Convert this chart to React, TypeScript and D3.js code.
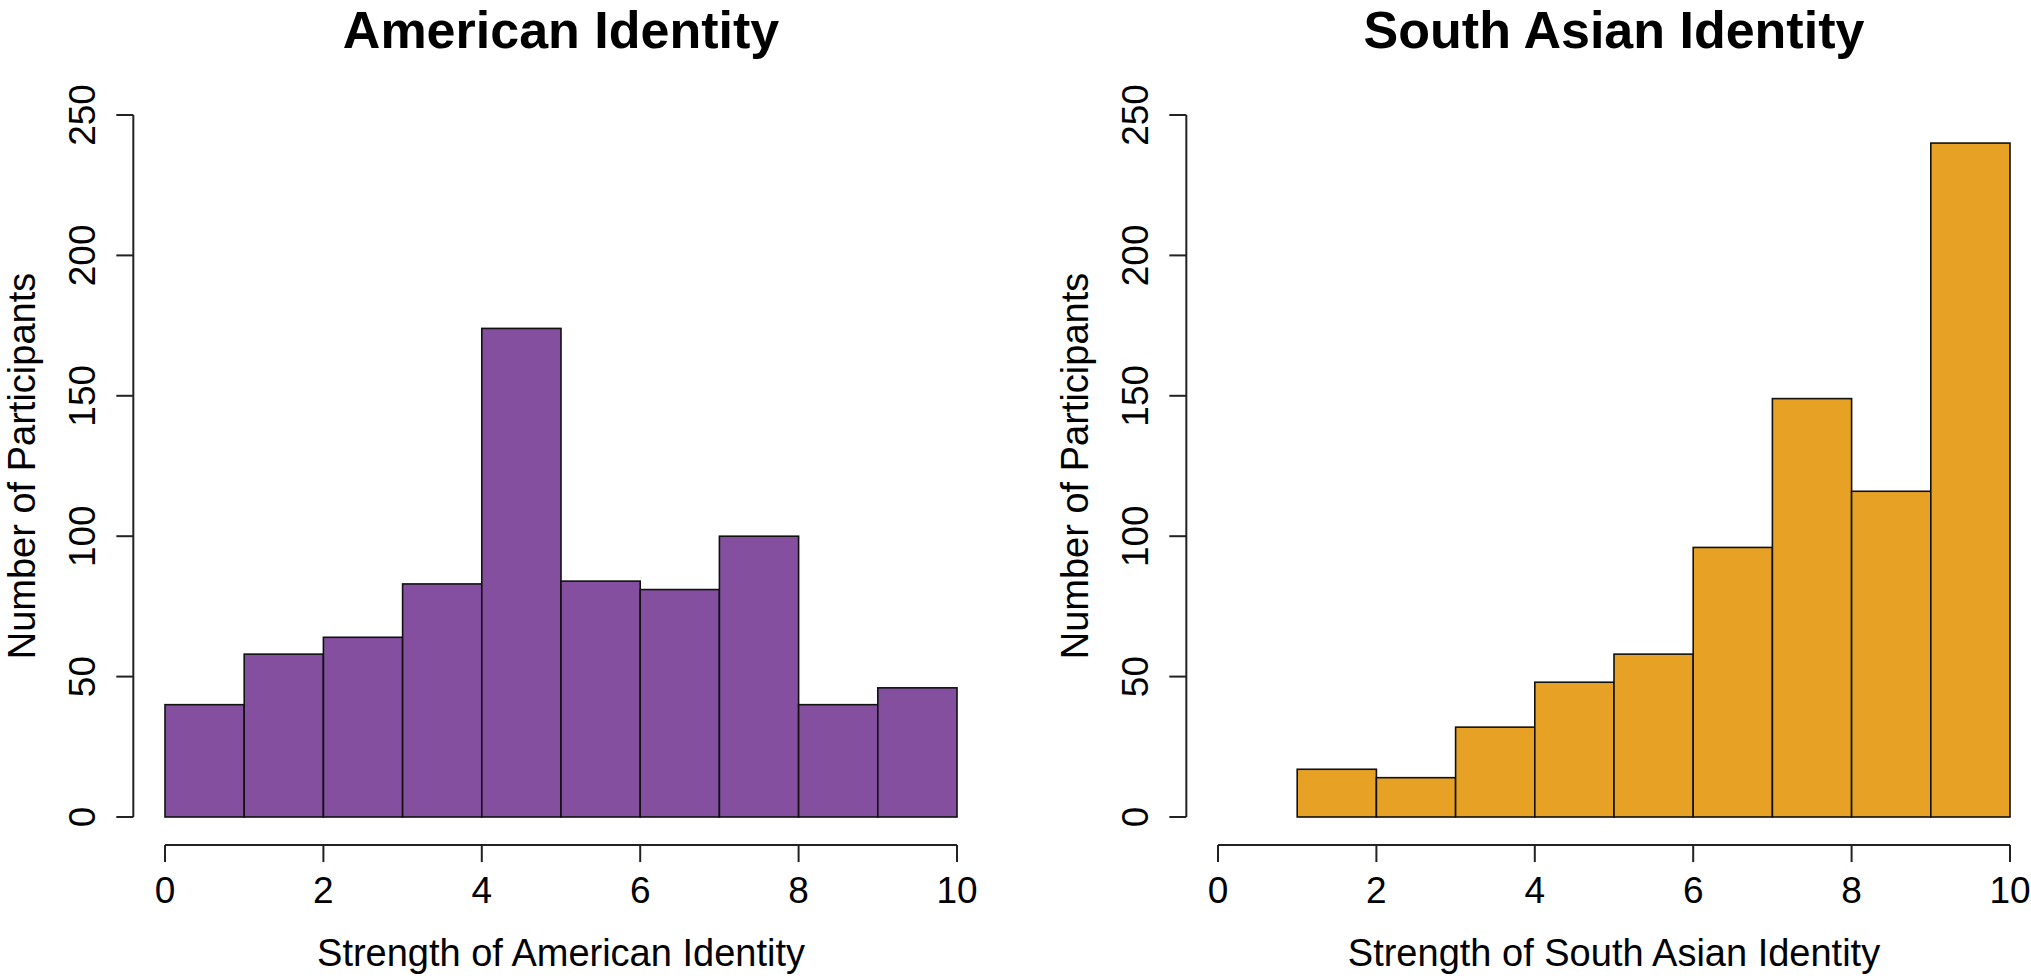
import React from "react";
import * as d3 from "d3";

const binEdges = [0, 1, 2, 3, 4, 5, 6, 7, 8, 9, 10];
const americanCounts = [40, 58, 64, 83, 174, 84, 81, 100, 40, 46];
const southAsianCounts = [0, 17, 14, 32, 48, 58, 96, 149, 116, 240];
const xTicks = [0, 2, 4, 6, 8, 10];
const yTicks = [0, 50, 100, 150, 200, 250];

const panels = [
  { title: "American Identity", xlabel: "Strength of American Identity", counts: americanCounts, color: "#834F9E", offset: 0 },
  { title: "South Asian Identity", xlabel: "Strength of South Asian Identity", counts: southAsianCounts, color: "#E7A226", offset: 1053 },
];

const W = 2031;
const H = 979;
const FONT = "'Liberation Sans', Arial, Helvetica, sans-serif";

function Panel({ p }: { p: (typeof panels)[number] }) {
  const x = d3.scaleLinear().domain([0, 10]).range([165 + p.offset, 957 + p.offset]);
  const y = d3.scaleLinear().domain([0, 250]).range([817, 115]);
  const axisX = x(-0.4);
  const axisY = y(-10);
  const cx = (x(-0.4) + x(10.4)) / 2;
  const cy = (y(-10) + y(260)) / 2;
  const bins = p.counts.map((c, i) => ({ x0: binEdges[i], x1: binEdges[i + 1], c }));
  return (
    <g>
      <text x={cx} y={48} textAnchor="middle" fontSize={52} fontWeight="bold" fontFamily={FONT} fill="#000">
        {p.title}
      </text>
      {bins
        .filter((b) => b.c > 0)
        .map((b, i) => (
          <rect
            key={i}
            x={x(b.x0)}
            y={y(b.c)}
            width={x(b.x1) - x(b.x0)}
            height={y(0) - y(b.c)}
            fill={p.color}
            stroke="#111"
            strokeWidth={1.6}
          />
        ))}
      {/* x axis */}
      <line x1={x(0)} x2={x(10)} y1={axisY} y2={axisY} stroke="#222" strokeWidth={2} />
      {xTicks.map((t) => (
        <g key={t}>
          <line x1={x(t)} x2={x(t)} y1={axisY} y2={axisY + 17} stroke="#222" strokeWidth={2} />
          <text x={x(t)} y={903} textAnchor="middle" fontSize={37} fontFamily={FONT} fill="#000">
            {t}
          </text>
        </g>
      ))}
      <text x={cx} y={966} textAnchor="middle" fontSize={38} fontFamily={FONT} fill="#000">
        {p.xlabel}
      </text>
      {/* y axis */}
      <line x1={axisX} x2={axisX} y1={y(0)} y2={y(250)} stroke="#222" strokeWidth={2} />
      {yTicks.map((t) => (
        <g key={t}>
          <line x1={axisX - 17} x2={axisX} y1={y(t)} y2={y(t)} stroke="#222" strokeWidth={2} />
          <text
            transform={`translate(${axisX - 38},${y(t)}) rotate(-90)`}
            textAnchor="middle"
            fontSize={37}
            fontFamily={FONT}
            fill="#000"
          >
            {t}
          </text>
        </g>
      ))}
      <text
        transform={`translate(${axisX - 98},${cy}) rotate(-90)`}
        textAnchor="middle"
        fontSize={38}
        fontFamily={FONT}
        fill="#000"
      >
        Number of Participants
      </text>
    </g>
  );
}

export default function App() {
  return (
    <svg
      width={W}
      height={H}
      style={{ position: "absolute", left: 0, top: 0, background: "#fff" }}
    >
      <rect x={0} y={0} width={W} height={H} fill="#fff" />
      {panels.map((p) => (
        <Panel key={p.title} p={p} />
      ))}
    </svg>
  );
}
